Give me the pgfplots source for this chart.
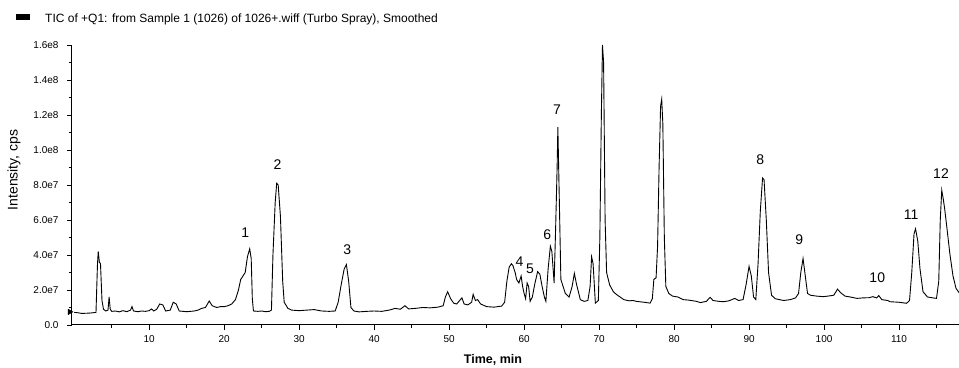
\documentclass[border=0pt]{standalone}
\usepackage{pgfplots}
\pgfplotsset{compat=1.18}
\usepackage{fontspec}
\setmainfont{Liberation Sans}
\begin{document}
\begin{tikzpicture}[x=1pt,y=1pt]
\path[use as bounding box] (0,0) rectangle (959,367);
\begin{axis}[
  at={(72pt,42pt)}, anchor=south west,
  scale only axis, width=887pt, height=280pt,
  xmin=-0.3, xmax=118, ymin=0, ymax=16,
  axis x line=bottom, axis y line=left,
  axis line style={-, line width=1pt},
  tick align=outside,
  major tick length=5pt, minor tick length=3pt,
  tick style={black, line width=0.8pt},
  xtick={10,20,...,110}, minor xtick={5,15,...,115},
  ytick={0,2,...,16}, minor ytick={1,3,...,15},
  yticklabels={0.0,2.0e7,4.0e7,6.0e7,8.0e7,1.0e8,1.2e8,1.4e8,1.6e8},
  ticklabel style={font=\fontsize{10}{12}\selectfont},
  xticklabel style={yshift=-2pt},
  yticklabel style={xshift=-5pt},
  /pgf/number format/assume math mode=true,
  clip=false,
]
\addplot[black, line width=0.9pt, mark=none] coordinates {
(0.0,0.72)(0.5,0.70)(1.0,0.66)(1.5,0.67)(2.0,0.68)(2.5,0.70)(2.9,0.72)(3.1,3.5)(3.2,4.2)(3.35,3.6)(3.5,3.5)(3.7,1.4)(3.9,0.9)(4.2,0.8)(4.5,0.85)(4.65,1.6)(4.8,0.9)(5.0,0.78)(5.5,0.80)(6.0,0.75)(6.5,0.82)(7.0,0.76)(7.5,0.85)(7.7,1.05)(7.9,0.80)(8.5,0.76)(9.0,0.80)(9.5,0.78)(10.0,0.82)(10.3,0.92)(10.6,0.80)(11.0,0.90)(11.4,1.20)(11.8,1.15)(12.2,0.80)(12.8,0.85)(13.2,1.30)(13.6,1.20)(14.0,0.80)(14.5,0.78)(15.0,0.76)(15.5,0.78)(16.0,0.80)(16.5,0.85)(17.0,0.95)(17.5,1.00)(18.0,1.37)(18.4,1.10)(19.0,1.00)(19.5,1.05)(20.0,1.05)(20.5,1.10)(21.0,1.20)(21.5,1.45)(21.9,2.0)(22.2,2.6)(22.5,2.8)(22.8,3.0)(23.1,3.9)(23.4,4.35)(23.6,3.8)(23.75,1.5)(23.9,0.80)(24.5,0.78)(25.0,0.80)(25.5,0.76)(26.0,0.78)(26.3,0.85)(26.5,4.0)(26.8,7.0)(27.0,8.1)(27.2,8.0)(27.5,6.2)(27.8,2.5)(28.0,1.3)(28.5,0.95)(29.0,0.85)(30,0.82)(31,0.85)(32,0.88)(33,0.80)(34,0.78)(34.8,0.80)(35.2,1.3)(35.6,2.3)(36.0,3.2)(36.3,3.45)(36.6,2.5)(36.9,1.0)(37.3,0.80)(38,0.75)(39,0.78)(40,0.80)(41,0.78)(42,0.85)(42.8,0.95)(43.5,0.90)(44.1,1.10)(44.6,0.92)(45.5,0.95)(46.5,1.00)(47.5,0.98)(48.5,1.02)(49.2,1.10)(49.5,1.6)(49.8,1.9)(50.2,1.5)(50.6,1.25)(51.0,1.20)(51.3,1.35)(51.7,1.55)(52.0,1.20)(52.5,1.15)(53.0,1.30)(53.2,1.75)(53.5,1.40)(53.8,1.45)(54.2,1.20)(55,1.05)(56,1.02)(57,1.08)(57.4,1.3)(57.7,2.5)(58.0,3.3)(58.3,3.5)(58.5,3.4)(58.8,3.0)(59.0,2.6)(59.3,2.4)(59.6,2.8)(59.8,2.2)(60.0,1.8)(60.2,1.5)(60.4,2.4)(60.6,2.2)(60.8,1.35)(61.1,1.6)(61.4,2.3)(61.8,3.05)(62.1,2.9)(62.4,2.2)(62.7,1.6)(62.9,1.35)(63.2,3.2)(63.5,4.5)(63.7,4.2)(64.0,2.4)(64.2,5.5)(64.4,9.0)(64.5,11.3)(64.7,7.0)(64.9,2.6)(65.2,2.2)(65.5,1.8)(66.0,1.6)(66.4,2.2)(66.7,2.95)(67.0,2.3)(67.5,1.45)(68.0,1.35)(68.5,1.40)(68.8,2.2)(69.0,3.9)(69.2,3.5)(69.5,1.25)(69.9,1.4)(70.1,5.0)(70.3,12.0)(70.45,16.0)(70.6,15.0)(70.8,6.0)(71.0,3.0)(71.4,2.3)(71.9,1.9)(72.3,1.75)(72.8,1.6)(73.3,1.45)(74.0,1.38)(74.5,1.40)(75,1.35)(76,1.30)(76.8,1.25)(77.1,1.5)(77.3,2.6)(77.6,2.7)(77.8,4.5)(78.0,9.0)(78.2,12.5)(78.35,12.9)(78.5,11.5)(78.7,5.0)(78.9,2.2)(79.3,1.8)(79.8,1.65)(80.5,1.60)(81.2,1.45)(82,1.42)(83,1.35)(83.5,1.28)(84.3,1.35)(84.8,1.58)(85.2,1.40)(86,1.35)(86.6,1.33)(87.3,1.38)(88.1,1.52)(88.6,1.40)(89.2,1.45)(89.6,2.3)(90.0,3.35)(90.3,2.8)(90.6,1.6)(90.9,1.45)(91.2,3.5)(91.5,6.5)(91.8,8.4)(92.0,8.3)(92.3,6.0)(92.6,3.0)(93.0,1.7)(93.5,1.5)(94.6,1.4)(95.5,1.45)(96.2,1.55)(96.6,1.8)(96.9,3.0)(97.2,3.8)(97.5,2.8)(97.8,1.8)(98.2,1.70)(99.0,1.65)(99.9,1.62)(100.5,1.65)(101.3,1.7)(101.8,2.05)(102.2,1.85)(102.8,1.65)(103.5,1.6)(104.4,1.52)(105.2,1.55)(106,1.56)(106.5,1.62)(107.0,1.55)(107.3,1.68)(107.7,1.45)(108.5,1.40)(108.8,1.33)(110,1.30)(111.0,1.24)(111.4,1.4)(111.7,3.0)(112.0,5.2)(112.2,5.5)(112.5,4.8)(112.8,3.2)(113.2,1.9)(113.8,1.6)(114.5,1.55)(115.0,1.52)(115.3,2.5)(115.5,6.0)(115.7,7.7)(115.9,7.2)(116.1,6.6)(116.4,5.5)(116.8,4.0)(117.2,2.8)(117.6,2.1)(118.0,1.85)
};
\addplot[only marks, mark=triangle*, mark options={rotate=-90, black, scale=1.6}] coordinates {(-0.6,0.75)};
\addplot[only marks, mark=none, nodes near coords, point meta=explicit symbolic,
  every node near coord/.append style={font=\fontsize{14}{16}\selectfont, anchor=center, inner sep=0pt}]
  coordinates {
  (22.8,5.26)[1] (27.1,9.14)[2] (36.4,4.29)[3] (59.4,3.6)[4] (60.8,3.2)[5] (63.1,5.14)[6]
  (64.4,12.29)[7] (91.5,9.43)[8] (96.7,4.86)[9] (107.1,2.69)[10] (111.6,6.29)[11] (115.6,8.63)[12]
  };
\end{axis}
\fill[black] (16,347) rectangle (30,353);
\node[anchor=west, font=\fontsize{12}{14}\selectfont, inner sep=0pt] at (45,348) {TIC of +Q1: from Sample 1 (1026) of 1026+.wiff (Turbo Spray), Smoothed};
\node[rotate=90, font=\fontsize{14}{16}\selectfont, inner sep=0pt] at (14,197) {Intensity, cps};
\node[font=\bfseries\fontsize{12.5}{14}\selectfont, inner sep=0pt] at (493,7) {Time, min};
\end{tikzpicture}
\end{document}
